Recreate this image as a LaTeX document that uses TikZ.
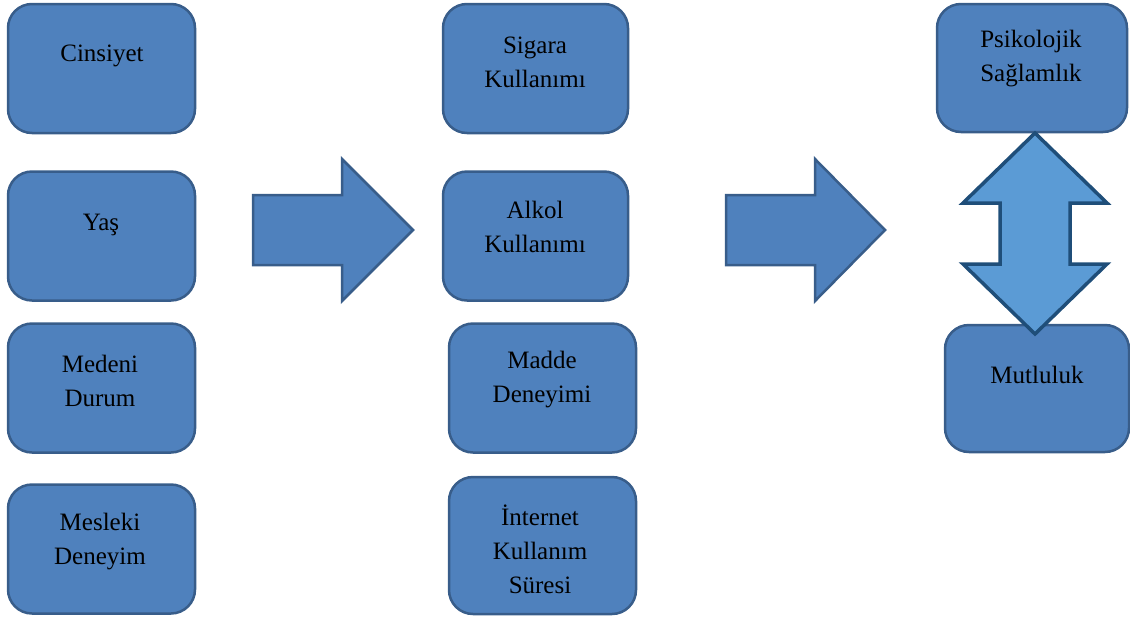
\documentclass[tikz,border=0pt]{standalone}
\usepackage{fontspec}
\setmainfont{Liberation Serif}
\definecolor{kutumavi}{HTML}{4F81BD}
\definecolor{kenarmavi}{HTML}{385D8A}
\definecolor{acikmavi}{HTML}{5B9BD5}
\definecolor{koyumavi}{HTML}{1F4E79}

\begin{document}
\begin{tikzpicture}[x=1pt, y=-1pt,
  kutu/.style={draw=kenarmavi, fill=kutumavi, line width=2.5pt, rounded corners=24pt,
    inner sep=0pt, minimum width=187pt, minimum height=129pt},
  yazi/.style={align=center, inner sep=0pt, font=\fontsize{25}{34}\selectfont},
  blokok/.style={draw=kenarmavi, fill=kutumavi, line width=2.5pt, line join=miter},
  ciftok/.style={draw=koyumavi, fill=acikmavi, line width=3.5pt, line join=miter}]
\useasboundingbox (0,0) rectangle (1130,619);

% sol sutun
\node[kutu] (cins) at (101.5,68.5) {};
\node[kutu] (yas) at (101.5,236) {};
\node[kutu] (medeni) at (101.5,388) {};
\node[kutu] (meslek) at (101.5,549) {};
\node[yazi] (cins-y) at (102,56) {Cinsiyet};
\node[yazi] (yas-y) at (101,225) {Yaş};
\node[yazi] (medeni-y) at (100,381) {Medeni\\Durum};
\node[yazi] (meslek-y) at (100,542) {Mesleki\\Deneyim};

% orta sutun
\node[kutu, minimum width=185pt] (sigara) at (535.5,68.5) {};
\node[kutu, minimum width=185pt] (alkol) at (535.5,236) {};
\node[kutu] (madde) at (542.5,388) {};
\node[kutu, minimum height=137pt] (internet) at (542.5,545.5) {};
\node[yazi] (sigara-y) at (535,62) {Sigara\\Kullanımı};
\node[yazi] (alkol-y) at (535,227) {Alkol\\Kullanımı};
\node[yazi] (madde-y) at (542,380) {Madde\\Deneyimi};
\node[yazi] (internet-y) at (540,549) {İnternet\\Kullanım\\Süresi};

% sag sutun
\node[kutu, minimum width=190pt, minimum height=128pt] (psiko) at (1032,68) {};
\node[kutu, minimum width=184pt, minimum height=127pt] (mutlu) at (1037,388.5) {};
\node[yazi] (psiko-y) at (1031,59) {Psikolojik\\Sağlamlık};
\node[yazi] (mutlu-y) at (1037,375) {Mutluluk};

% oklar
\draw[blokok] (253,195) -- (342,195) -- (342,159) -- (413,230) -- (342,301) -- (342,265) -- (253,265) -- cycle; % ok 1
\draw[blokok] (726,195) -- (815,195) -- (815,159) -- (885,230) -- (815,301) -- (815,265) -- (726,265) -- cycle; % ok 2
\draw[ciftok] (1035,133) -- (1107,203) -- (1070,203) -- (1070,264) -- (1107,264) -- (1035,334)
  -- (963,264) -- (1000,264) -- (1000,203) -- (963,203) -- cycle; % cift yonlu ok
\end{tikzpicture}
\end{document}
